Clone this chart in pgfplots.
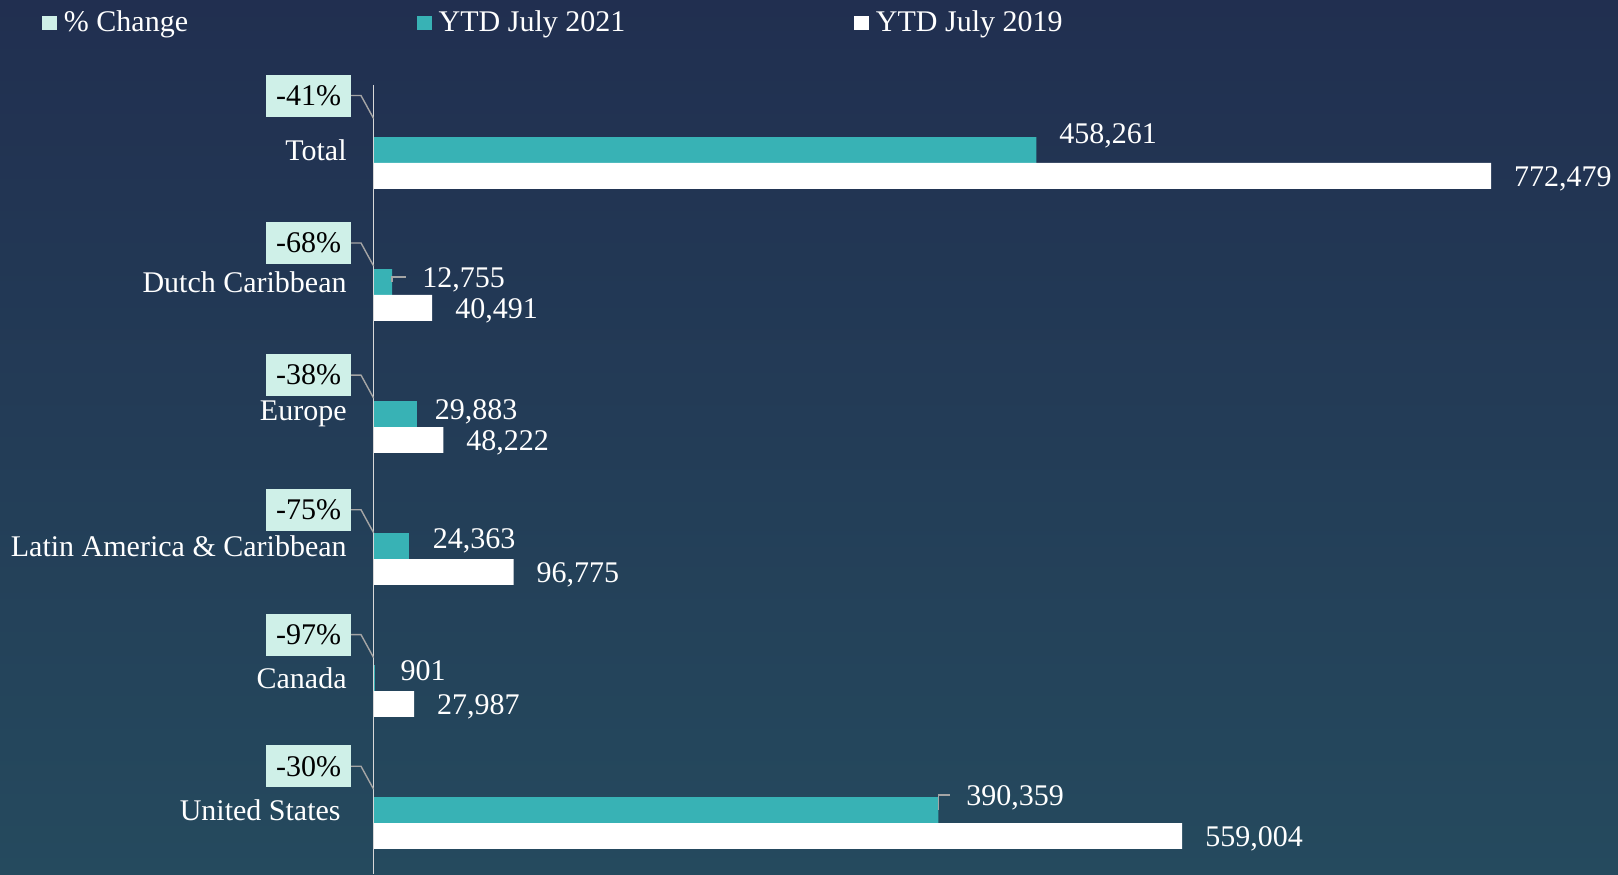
\documentclass[border=0pt]{standalone}
\usepackage{pgfplots}
\usepackage{pgfplotstable}
\pgfplotsset{compat=1.18}
\usepackage{fontspec}
\setmainfont{Liberation Serif}
\definecolor{bgtop}{RGB}{33,47,80}
\definecolor{bgbot}{RGB}{37,74,94}
\definecolor{teal2}{RGB}{56,178,181}
\definecolor{mint}{RGB}{207,240,232}
\definecolor{leader}{RGB}{165,165,165}
\definecolor{axisgrey}{RGB}{215,215,215}

% y: 0 = United States ... 5 = Total
% yoff = label shift above the group centre line (pt)
\pgfplotstableread{
x y xoff yoff
390359 0 13.8 12.7
901 1 12.7 10.0
24363 2 11.8 9.1
29883 3 8.8 7.6
12755 4 14.9 7.7
458261 5 11.3 13.7
}\ytdtwentyone

\pgfplotstableread{
x y
559004 0
27987 1
96775 2
48222 3
40491 4
772479 5
}\ytdnineteen

\begin{document}
\begin{tikzpicture}[font=\fontsize{15}{18}\selectfont]
\begin{axis}[
  scale only axis, width=809pt, height=437pt,
  xmin=-258277, xmax=860279, ymin=-0.3864, ymax=6.2348,
  axis line style={draw=none}, tick style={draw=none},
  xtick=\empty, ytick={0,...,5},
  yticklabels={United States\hspace*{3pt},Canada,Latin America \& Caribbean,Europe,Dutch Caribbean,Total},
  yticklabel style={anchor=east, inner sep=0pt, xshift=173.5pt, yshift=6.45pt, text=white},
  axis background/.style={top color=bgtop, bottom color=bgbot},
  bar width=12.9pt,
  clip=false,
  legend columns=3,
  legend image code/.code={\fill[#1] (0pt,-3.6pt) rectangle (7.2pt,3.6pt);},
  legend style={draw=none, fill=none, at={(axis description cs:0.0262,0.974)}, anchor=west,
    inner sep=0pt, outer sep=0pt, text=white,
    /tikz/every odd column/.append style={column sep=1.6pt},
    /tikz/every even column/.append style={column sep=112.5pt}},
]
\addlegendimage{fill=mint, draw=none}
\addlegendentry{\% Change}
\addlegendimage{fill=teal2, draw=none}
\addlegendentry{YTD July 2021}
\addlegendimage{fill=white, draw=none}
\addlegendentry{YTD July 2019}

\addplot[xbar, fill=teal2, draw=none, bar shift=6.45pt, forget plot,
  point meta=x,
  visualization depends on={\thisrow{xoff}\as\xoff},
  visualization depends on={\thisrow{yoff}\as\yoff},
  nodes near coords={\pgfmathprintnumber[fixed, precision=0, 1000 sep={,}, assume math mode=true]{\pgfplotspointmeta}},
  nodes near coords style={anchor=west, inner sep=0pt, xshift=\xoff pt, yshift=\yoff pt, text=white}]
  table[x=x, y=y] {\ytdtwentyone};

\addplot[xbar, fill=white, draw=none, bar shift=-6.45pt, forget plot,
  point meta=x,
  nodes near coords={\pgfmathprintnumber[fixed, precision=0, 1000 sep={,}, assume math mode=true]{\pgfplotspointmeta}},
  nodes near coords style={anchor=west, inner sep=0pt, xshift=11.35pt, yshift=-7.9pt, text=white}]
  table[x=x, y=y] {\ytdnineteen};

% axis line
\draw[axisgrey, line width=0.8pt] (axis cs:0,5.591) -- (axis cs:0,-0.3864);

% leader lines for % change boxes
\draw[leader, line width=0.7pt] (axis cs:-15624,5.511) -- ++(5pt,0pt) -- ++(6.3pt,-11.5pt);
\draw[leader, line width=0.7pt] (axis cs:-15624,4.394) -- ++(5pt,0pt) -- ++(6.3pt,-11.5pt);
\draw[leader, line width=0.7pt] (axis cs:-15624,3.393) -- ++(5pt,0pt) -- ++(6.3pt,-11.5pt);
\draw[leader, line width=0.7pt] (axis cs:-15624,2.373) -- ++(5pt,0pt) -- ++(6.3pt,-11.5pt);
\draw[leader, line width=0.7pt] (axis cs:-15624,1.427) -- ++(5pt,0pt) -- ++(6.3pt,-11.5pt);
\draw[leader, line width=0.7pt] (axis cs:-15624,0.430) -- ++(5pt,0pt) -- ++(6.3pt,-11.5pt);
% leader lines for small value labels
\draw[leader, line width=0.7pt] (axis cs:12755,4) ++(0pt,6.45pt) -- ++(0pt,2.5pt) -- ++(7pt,0pt);
\draw[leader, line width=0.7pt] (axis cs:390359,0) ++(0pt,6.45pt) -- ++(0pt,7.5pt) -- ++(6pt,0pt);

% % change boxes
\addplot[draw=none, mark=none, forget plot, point meta=explicit symbolic,
  nodes near coords,
  nodes near coords style={anchor=center, fill=mint, text=black, minimum width=42.5pt, minimum height=21pt, inner sep=0pt}]
  coordinates {
  (-45005,5.511) [-41\%]
  (-45005,4.394) [-68\%]
  (-45005,3.393) [-38\%]
  (-45005,2.373) [-75\%]
  (-45005,1.427) [-97\%]
  (-45005,0.430) [-30\%]
  };
\end{axis}
\end{tikzpicture}
\end{document}
